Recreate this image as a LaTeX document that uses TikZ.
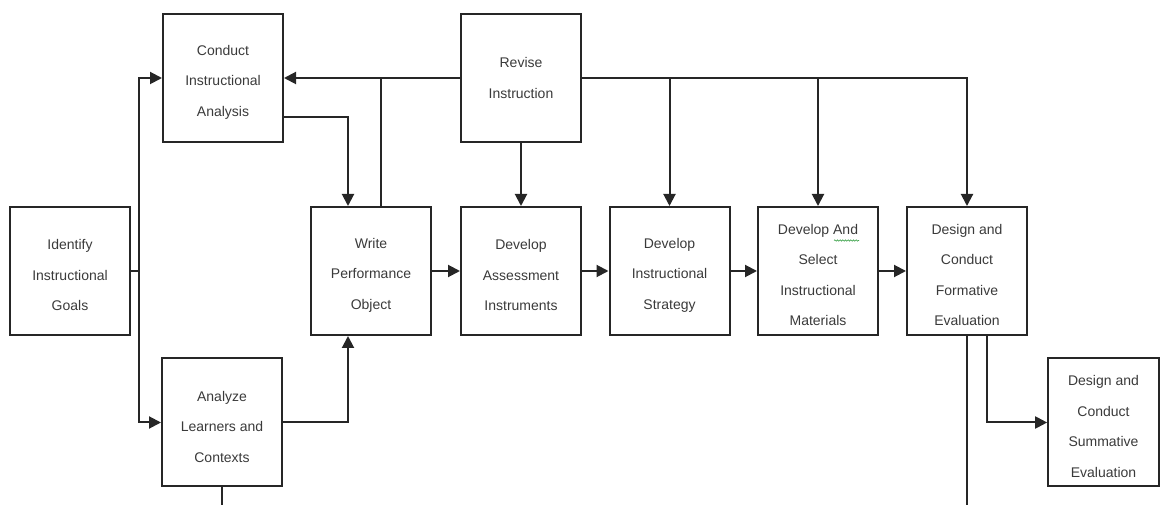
\documentclass[tikz,border=0pt]{standalone}
\usepackage{fontspec}
\setmainfont{Liberation Sans}
\usetikzlibrary{arrows.meta,decorations.pathmorphing}
\definecolor{txt}{HTML}{3A3A3A}
\definecolor{spell}{HTML}{3FA34D}
% raises the first line so the text block sits a little low in its box
\newcommand{\toppad}{\rule{0pt}{13.8pt}}
\begin{document}
\begin{tikzpicture}[x=0.75pt,y=-0.75pt,
  stage/.style={draw=black!85,line width=1.5pt,minimum width=90pt,minimum height=96pt,
    inner sep=0pt,align=center,text=txt,font=\fontsize{10.5}{22.9}\selectfont},
  link/.style={draw=black!85,line width=1.5pt},
  flow/.style={link,-{Triangle[length=9pt,width=9pt]}}]
\useasboundingbox (0,0) rectangle (1160,505);

% process boxes
\node[stage] (ident)   at (70,271)    {\toppad Identify\\Instructional\\Goals};
\node[stage] (conduct) at (223,78)    {\toppad Conduct\\Instructional\\Analysis};
\node[stage] (analyze) at (222,422.5) {\toppad Analyze\\Learners and\\Contexts};
\node[stage] (write)   at (371,271)   {\toppad Write\\Performance\\Object};
\node[stage] (revise)  at (521,78)    {Revise\\Instruction};
\node[stage] (assess)  at (521,271)   {\toppad Develop\\Assessment\\Instruments};
\node[stage] (strat)   at (669.5,271) {\toppad Develop\\Instructional\\Strategy};
\node[stage] (mater)   at (818,271)   {\toppad Develop And\\Select\\Instructional\\Materials};
\node[stage] (form)    at (967,271)   {\toppad Design and\\Conduct\\Formative\\Evaluation};
\node[stage,minimum width=83pt] (summ) at (1103.5,422.5) {\toppad Design and\\Conduct\\Summative\\Evaluation};

% wavy underline beneath "And"
\draw[spell,line width=0.5pt,decorate,decoration={snake,amplitude=0.5pt,segment length=2pt}]
  (834,240.5) -- (859,240.5);

% junction points and lower edge
\coordinate (jL) at (139,271);
\coordinate (edge) at (0,505);

% goals branch to the two analyses
\draw[link] (ident.east) -- (jL);
\draw[flow] (jL) |- (conduct.west);
\draw[flow] (jL) |- (analyze.west);

% analyses feed the objectives
\draw[flow] ([yshift=-29.6pt]conduct.east) -| ([xshift=-17.25pt]write.north);
\draw[flow] (analyze.east) -| ([xshift=-17.25pt]write.south);

% revision loop
\draw[flow] (revise.west) -- (conduct.east);
\draw[link] ([xshift=7.5pt]write.north) -- ([xshift=7.5pt]write.north |- revise.west);
\draw[flow] (revise.south) -- (assess.north);
\draw[flow] (revise.east) -| (form.north);
\draw[flow] (revise.east -| strat.north) -- (strat.north);
\draw[flow] (revise.east -| mater.north) -- (mater.north);

% main sequence
\draw[flow] (write.east) -- (assess.west);
\draw[flow] (assess.east) -- (strat.west);
\draw[flow] (strat.east) -- (mater.west);
\draw[flow] (mater.east) -- (form.west);

% outputs of the evaluation stage
\draw[flow] ([xshift=15pt]form.south) |- (summ.west);
\draw[link] (form.south) -- (form.south |- edge);
\draw[link] (analyze.south) -- (analyze.south |- edge);
\end{tikzpicture}
\end{document}
